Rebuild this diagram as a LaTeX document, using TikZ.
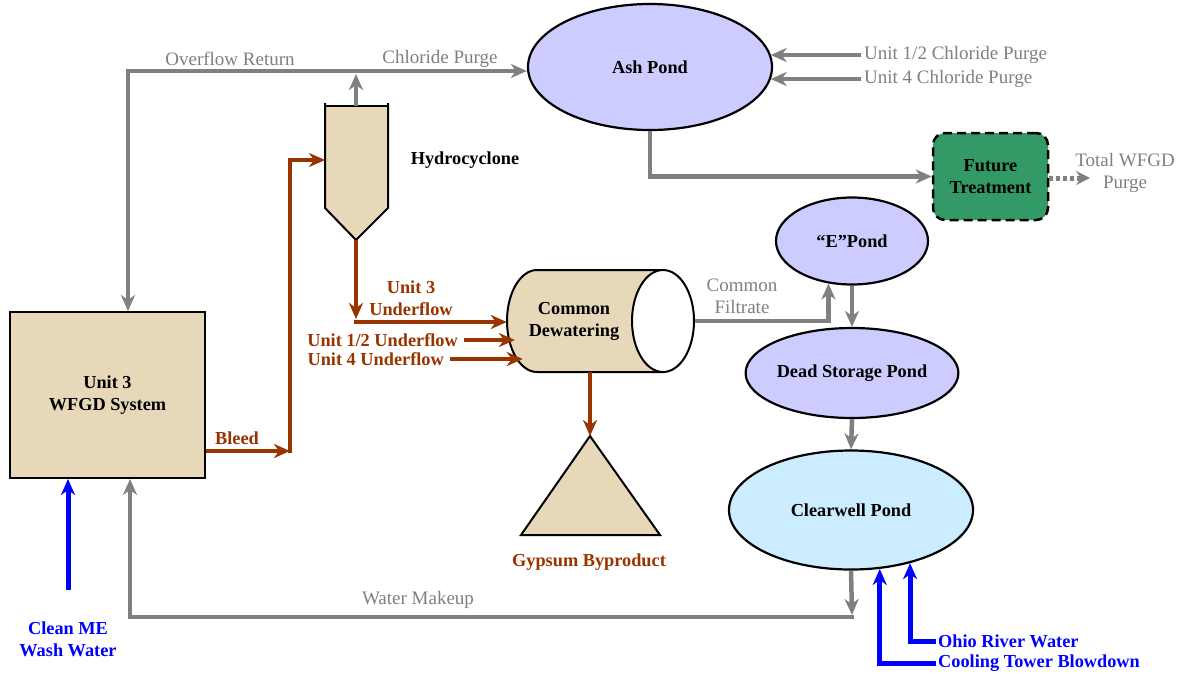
\documentclass[tikz,border=0pt]{standalone}
\usepackage{fontspec}
\setmainfont{Liberation Serif}
\usetikzlibrary{arrows.meta,shapes.geometric,calc}
\definecolor{gc}{RGB}{128,128,128}
\definecolor{bc}{RGB}{153,51,0}
\definecolor{blc}{RGB}{0,0,255}
\definecolor{lav}{RGB}{204,204,255}
\definecolor{lblue}{RGB}{204,236,255}
\definecolor{grn}{RGB}{51,153,102}
\definecolor{tanc}{RGB}{232,216,186}
\newcommand\blkfont{\fontsize{18.3}{22}\selectfont\bfseries}
\newcommand\gryfont{\fontsize{19}{22}\selectfont}
\tikzset{
 head/.style={-{Stealth[length=16pt,width=14pt,inset=5pt]}},
 garr/.style={draw=gc,line width=4.5pt,head},
 gline/.style={draw=gc,line width=4.5pt},
 barr/.style={draw=bc,line width=4.5pt,head},
 blarr/.style={draw=blc,line width=5pt,head},
 pond/.style={ellipse,draw=black,line width=2.2pt,fill=lav,inner sep=0pt,font=\blkfont},
 blab/.style={font=\blkfont,text=black,align=center,inner sep=0pt},
 glab/.style={font=\gryfont,text=gc,align=center,inner sep=0pt},
 brlab/.style={font=\blkfont,text=bc,align=center,inner sep=0pt},
 bllab/.style={font=\blkfont,text=blc,align=center,inner sep=0pt},
 outl/.style={draw=black,line width=2pt}
}
\begin{document}
\begin{tikzpicture}[x=1pt,y=-1pt]
\useasboundingbox (0,0) rectangle (1198,673);
\fill[white] (0,0) rectangle (1198,673);

% Unit 3 WFGD system
\node[outl,fill=tanc,minimum width=195pt,minimum height=166pt,inner sep=0pt,font=\blkfont,align=center] (wfgd) at (107.5,395) {Unit 3\\WFGD System};

% Hydrocyclone
\fill[tanc] (325,106) -- (388,106) -- (388,208) -- (356,240) -- (325,208) -- cycle;
\draw[outl] (325,103) -- (325,208) -- (356,240) -- (388,208) -- (388,103);
\draw[outl] (325,106) -- (388,106);
\coordinate (hctop) at (356,106);
\coordinate (hcin) at (325,160);
\coordinate (hctip) at (356,240);
\node[blab] (hclab) at (465,160) {Hydrocyclone};

% Ponds
\node[pond,minimum width=244pt,minimum height=126pt] (ash) at (650,67) {Ash Pond};
\node[pond,minimum width=152pt,minimum height=87pt] (ep) at (852,241) {“E”Pond};
\node[pond,minimum width=183pt,minimum height=90pt] (ds) at (852,373) {Dead Storage Pond};
\node[pond,fill=lblue,minimum width=244pt,minimum height=119pt] (cw) at (851,510) {Clearwell Pond};

% Future treatment
\node[draw=black,line width=2.5pt,dash pattern=on 9pt off 5pt,rounded corners=12pt,fill=grn,minimum width=115pt,minimum height=87pt,inner sep=0pt,align=center,font=\blkfont] (ft) at (990.5,176.5) {Future\\Treatment};
\node[glab] (twp) at (1125,173) {Total WFGD\\Purge};
\coordinate (twend) at (1090,178);

% Common dewatering cylinder
\fill[tanc] (537,270) -- (663,270) -- (663,372) -- (537,372) arc[start angle=270,end angle=90,x radius=30pt,y radius=51pt] -- cycle;
\draw[outl] (663,270) -- (537,270) arc[start angle=90,end angle=270,x radius=30pt,y radius=51pt] -- (663,372);
\node[ellipse,outl,fill=white,minimum width=62pt,minimum height=102pt,inner sep=0pt] (cylR) at (663,321) {};
\node[ellipse,minimum width=60pt,minimum height=102pt,inner sep=0pt] (cylL) at (537,321) {};
\node[blab] (dewlab) at (574,321) {Common\\Dewatering};
\coordinate (cylB) at (590,372);

% Gypsum
\draw[outl,fill=tanc] (590,436) -- (660,535) -- (521,535) -- cycle;
\coordinate (gypA) at (590,436);
\node[brlab] (gyplab) at (589,562) {Gypsum Byproduct};

% Overflow return / chloride purge
\coordinate (jn) at (356,71);
\coordinate (orc) at (128,71);
\draw[garr] (hctop) -- ([yshift=-3pt]jn);
\draw[garr] (jn) -- (jn -| ash.west);
\draw[garr] (jn) -- (orc) -- (orc |- wfgd.north);
\node[glab] (orl) at (230,59) {Overflow Return};
\node[glab] (cpl) at (440,59) {Chloride Purge};

\node[glab,anchor=west] (u12cp) at (864,55) {Unit 1/2 Chloride Purge};
\node[glab,anchor=west] (u4cp) at (864,79) {Unit 4 Chloride Purge};
\draw[garr] ([xshift=-3pt]u12cp.west) -- (ash.6 |- u12cp.west);
\draw[garr] ([xshift=-3pt]u4cp.west) -- (ash.-6 |- u4cp.west);

\draw[garr] (ash.south) |- (ft.west);
\draw[draw=gc,line width=5pt,dash pattern=on 4pt off 3pt,-{Stealth[length=14pt,width=14pt,inset=5pt]}] (ft.east |- twend) -- (twend);

% Common filtrate and pond chain
\draw[garr] (cylR.east) -| (ep.241);
\node[glab] (cfl) at (742,296) {Common\\Filtrate};
\draw[garr] (ep.south) -- (ds.north);
\draw[garr] (ds.south) -- (cw.north);
\coordinate (wm) at (852,617);
\coordinate (wmc) at (130,617);
\draw[garr] (cw.south) -- ([yshift=2pt]wm);
\draw[garr] ([xshift=2pt]wm) -- (wmc) -- (wmc |- wfgd.south);
\node[glab] (wml) at (418,600) {Water Makeup};

% Blue inputs
\node[bllab,anchor=west] (ohio) at (938,641) {Ohio River Water};
\node[bllab,anchor=west] (ctb) at (938,663) {Cooling Tower Blowdown};
\draw[blarr] ([xshift=-2pt]ohio.west) -| (cw.-42);
\draw[blarr] ([xshift=-2pt]ctb.west) -| (cw.-64);
\node[bllab] (clean) at (68,639) {Clean ME\\Wash Water};
\coordinate (cms) at (68,590);
\draw[blarr] (cms) -- (cms |- wfgd.south);

% Brown flows
\node[brlab] (bleedl) at (237,438) {Bleed};
\coordinate (bc1) at (290,451);
\draw[barr] (wfgd.east |- bc1) -- (bc1);
\draw[barr] ([yshift=-2.25pt]bc1) |- (hcin);
\coordinate (uc) at (356,322);
\draw[barr] (hctip) -- ([yshift=3pt]uc);
\draw[barr] ([xshift=-2.25pt]uc) -- (uc -| cylL.west);
\node[brlab] (u3u) at (411,298) {Unit 3\\Underflow};
\node[brlab,anchor=east] (u12u) at (458,340) {Unit 1/2 Underflow};
\node[brlab,anchor=east] (u4u) at (444,359) {Unit 4 Underflow};
\draw[barr] ([xshift=6pt]u12u.east) -- ([xshift=6pt]u12u.east -| cylL.214);
\draw[barr] ([xshift=6pt]u4u.east) -- ([xshift=6pt]u4u.east -| cylL.242);
\draw[barr] (cylB) -- (gypA);
\end{tikzpicture}
\end{document}
